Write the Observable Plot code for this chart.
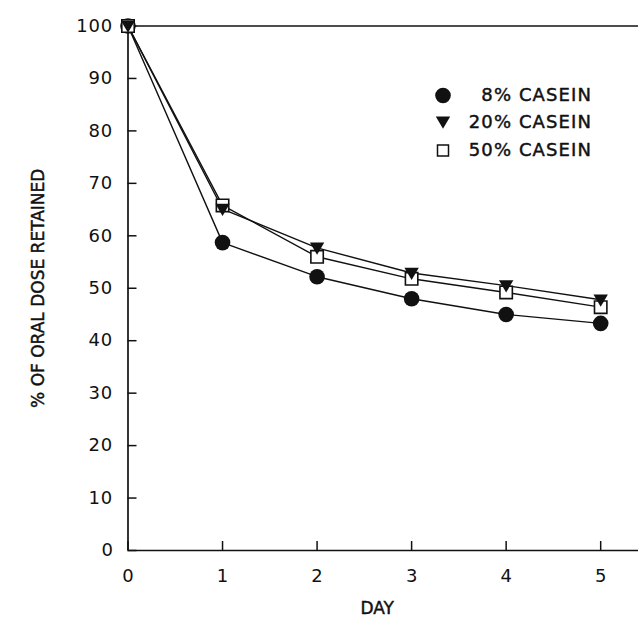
<!DOCTYPE html>
<html>
<head>
<meta charset="utf-8">
<script src="https://cdn.jsdelivr.net/npm/d3@7"></script>
<script src="https://cdn.jsdelivr.net/npm/@observablehq/plot@0.6"></script>
<style>
  html, body { margin: 0; padding: 0; background: #fff; }
  #chart svg { display: block; }
</style>
</head>
<body>
<div id="chart"></div>
<script>
// ---- data ----
const days = [0, 1, 2, 3, 4, 5];
const casein8 = [100, 58.7, 52.2, 48.0, 45.0, 43.3];
const casein20 = [100, 65.1, 57.7, 52.9, 50.5, 47.8];
const casein50 = [100, 65.8, 56.0, 51.8, 49.2, 46.4];
const seriesNames = ["8% CASEIN", "20% CASEIN", "50% CASEIN"];
const xTicks = [0, 1, 2, 3, 4, 5];
const yTicks = [0, 10, 20, 30, 40, 50, 60, 70, 80, 90, 100];

const toRows = (vals, name) => days.map((d, i) => ({day: d, value: vals[i], series: name}));
const rows8 = toRows(casein8, seriesNames[0]);
const rows20 = toRows(casein20, seriesNames[1]);
const rows50 = toRows(casein50, seriesNames[2]);

// custom symbols
const triDown = {
  draw(ctx, size) {
    const r = Math.sqrt(size / Math.PI);
    ctx.moveTo(-r, -0.75 * r);
    ctx.lineTo(r, -0.75 * r);
    ctx.lineTo(0, 0.95 * r);
    ctx.closePath();
  }
};
const sq = {
  draw(ctx, size) {
    const r = Math.sqrt(size / Math.PI);
    ctx.rect(-r, -r, 2 * r, 2 * r);
  }
};

const font = "DejaVu Sans, sans-serif";
const black = "#111";
const noText = () => "";
const textInk = {fill: black, stroke: black, strokeWidth: 0.45};

// legend layout (offsets from top-left of the frame)
const legX = 315, legTextX = 464;
const legDy = [69.5, 96, 124.5];

function legendEntry(i, dotOpts) {
  return [
    Plot.dot([seriesNames[i]], {frameAnchor: "top-left", dx: legX, dy: legDy[i], ...dotOpts}),
    Plot.text([seriesNames[i]], {frameAnchor: "top-left", dx: legTextX, dy: legDy[i], text: d => d,
      textAnchor: "end", lineAnchor: "middle", fontSize: 18, ...textInk})
  ];
}

const chart = Plot.plot({
  width: 638,
  height: 624,
  marginLeft: 127.5,
  marginRight: 0,
  marginTop: 25.5,
  marginBottom: 74,
  style: {fontFamily: font, fontSize: "18px", color: black, background: "#fff"},
  x: {domain: [0, 5.4]},
  y: {domain: [0, 100]},
  marks: [
    // frame lines
    Plot.ruleX([0], {y1: 0, y2: 100, stroke: black, strokeWidth: 1.7}),
    Plot.ruleY([0, 100], {stroke: black, strokeWidth: 1.7}),
    // inward ticks
    Plot.axisY({ticks: yTicks, tickSize: -9, tickFormat: noText, label: null, stroke: black, strokeWidth: 1.5}),
    Plot.axisY({ticks: yTicks, tickSize: 0, tickPadding: 15, tickFormat: d3.format("d"), label: null, fontSize: 18, ...textInk}),
    Plot.axisX({ticks: xTicks, tickSize: -9, tickFormat: noText, label: null, stroke: black, strokeWidth: 1.5}),
    Plot.axisX({ticks: xTicks, tickSize: 0, tickPadding: 19, tickFormat: d3.format("d"), label: null, fontSize: 18, ...textInk}),
    // axis titles
    Plot.text(["DAY"], {frameAnchor: "bottom", dy: 63, dx: -6, fontSize: 17, ...textInk}),
    Plot.text(["% OF ORAL DOSE RETAINED"], {frameAnchor: "left", dx: -89, rotate: -90, textAnchor: "middle", lineAnchor: "middle", fontSize: 17, ...textInk}),
    // lines
    Plot.line(rows8, {x: "day", y: "value", stroke: black, strokeWidth: 1.4}),
    Plot.line(rows20, {x: "day", y: "value", stroke: black, strokeWidth: 1.4}),
    Plot.line(rows50, {x: "day", y: "value", stroke: black, strokeWidth: 1.4}),
    // markers
    Plot.dot(rows8, {x: "day", y: "value", r: 7.8, fill: black, stroke: "none"}),
    Plot.dot(rows50, {x: "day", y: "value", r: 6.2, symbol: sq, fill: "#fff", stroke: black, strokeWidth: 1.6}),
    Plot.dot(rows20, {x: "day", y: "value", r: 7.2, symbol: triDown, fill: black, stroke: "none"}),
    // legend
    ...legendEntry(0, {r: 7.8, fill: black, stroke: "none"}),
    ...legendEntry(1, {r: 7.2, symbol: triDown, fill: black, stroke: "none"}),
    ...legendEntry(2, {r: 5.5, symbol: sq, fill: "#fff", stroke: black, strokeWidth: 1.5})
  ]
});

// letter spacing tweaks (Plot text has no letterSpacing option)
const svgSel = d3.select(chart);
svgSel.selectAll("text").each(function () {
  const t = this.textContent;
  if (/CASEIN/.test(t)) d3.select(this).attr("letter-spacing", "1.1px");
  else if (/^\d+$/.test(t) && t.length > 1) d3.select(this).attr("letter-spacing", "0.8px");
});

document.getElementById("chart").appendChild(chart);
</script>
</body>
</html>
